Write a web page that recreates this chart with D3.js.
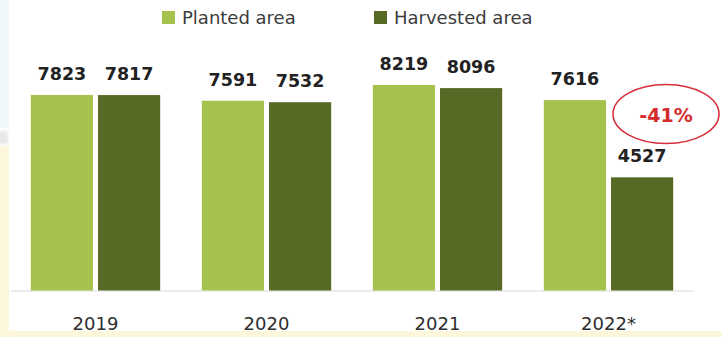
<!DOCTYPE html>
<html>
<head>
<meta charset="utf-8">
<script src="https://cdn.jsdelivr.net/npm/d3@7"></script>
<style>
  html, body { margin: 0; padding: 0; background: #ffffff; }
  svg { display: block; }
</style>
</head>
<body>
<svg id="chart" width="722" height="337"></svg>
<script>
// Planted vs harvested area by year
const years = ["2019", "2020", "2021", "2022*"];
const seriesNames = ["Planted area", "Harvested area"];
const plantedArea = [7823, 7591, 8219, 7616];
const harvestedArea = [7817, 7532, 8096, 4527];

const colors = { "Planted area": "#a5c24e", "Harvested area": "#566a26" };

const W = 722, H = 337;
const svg = d3.select("#chart");

// page backdrop: pale cream margin strips and a faint cool tint at the top left
svg.append("rect").attr("x", 0).attr("y", 0).attr("width", W).attr("height", H).attr("fill", "#ffffff");
svg.append("rect").attr("x", 0).attr("y", 0).attr("width", 9).attr("height", 128).attr("fill", "#eef8fb");
svg.append("rect").attr("x", 0).attr("y", 146).attr("width", 9).attr("height", H - 146).attr("fill", "#fcf6da");
svg.append("rect").attr("x", 0).attr("y", 331).attr("width", W).attr("height", H - 331).attr("fill", "#fcf6da");
const defs = svg.append("defs");
defs.append("filter").attr("id", "soft").append("feGaussianBlur").attr("stdDeviation", 1.5);
svg.append("rect").attr("x", -2).attr("y", 131).attr("width", 10).attr("height", 13)
  .attr("fill", "#c4c4c4").attr("opacity", 0.4).attr("filter", "url(#soft)");

const rows = years.map((y, i) => ({
  year: y,
  values: [
    { key: seriesNames[0], value: plantedArea[i] },
    { key: seriesNames[1], value: harvestedArea[i] }
  ]
}));

const x0 = d3.scaleBand().domain(years).range([10, 694]).paddingInner(0).paddingOuter(0);
const x1 = d3.scaleBand().domain(seriesNames).range([0, x0.bandwidth()])
  .paddingInner(0.075).paddingOuter(0.31);
const y = d3.scaleLinear().domain([0, 10000]).range([290.5, 40.5]);

// x axis: light baseline plus year labels
const axis = svg.append("g")
  .attr("transform", `translate(0,${y(0)})`)
  .call(d3.axisBottom(x0).tickSizeInner(0).tickSizeOuter(0).tickPadding(26.5));
axis.select(".domain").attr("stroke", "#d9d9d9").attr("stroke-width", 1.2);
axis.selectAll("text")
  .attr("font-family", "DejaVu Sans, sans-serif")
  .attr("font-size", 18)
  .attr("fill", "#2e2e2e");

// bars
const groups = svg.append("g").selectAll("g").data(rows).join("g")
  .attr("transform", d => `translate(${x0(d.year)},0)`);

groups.selectAll("rect").data(d => d.values).join("rect")
  .attr("x", d => x1(d.key))
  .attr("y", d => y(d.value))
  .attr("width", x1.bandwidth())
  .attr("height", d => y(0) - y(d.value))
  .attr("fill", d => colors[d.key]);

// value labels above bars
groups.selectAll("text.val").data(d => d.values).join("text")
  .attr("class", "val")
  .attr("x", d => x1(d.key) + x1.bandwidth() / 2)
  .attr("y", d => y(d.value) - 15)
  .attr("text-anchor", "middle")
  .attr("font-family", "DejaVu Sans, sans-serif")
  .attr("font-weight", "bold")
  .attr("font-size", 17.5)
  .attr("fill", "#222222")
  .text(d => d.value);

// legend
const legend = svg.append("g");
const legendX = [162, 374];
seriesNames.forEach((name, i) => {
  const g = legend.append("g").attr("transform", `translate(${legendX[i]},11)`);
  g.append("rect").attr("width", 13).attr("height", 13).attr("fill", colors[name]);
  g.append("text").attr("x", 20).attr("y", 13)
    .attr("font-family", "DejaVu Sans, sans-serif")
    .attr("font-size", 18)
    .attr("fill", "#3c3c3c")
    .text(name);
});

// change callout for the last year
const last = years.length - 1;
const change = Math.round((harvestedArea[last] - plantedArea[last]) / plantedArea[last] * 100);
const cx = 666, cy = 114;
svg.append("ellipse")
  .attr("cx", cx).attr("cy", cy).attr("rx", 53).attr("ry", 29.5)
  .attr("fill", "none").attr("stroke", "#d62f3a").attr("stroke-width", 1.6);
svg.append("text")
  .attr("x", cx).attr("y", cy + 7.5)
  .attr("text-anchor", "middle")
  .attr("font-family", "DejaVu Sans, sans-serif")
  .attr("font-weight", "bold")
  .attr("font-size", 19)
  .attr("fill", "#d42b2b")
  .text(`${change}%`);
</script>
</body>
</html>
